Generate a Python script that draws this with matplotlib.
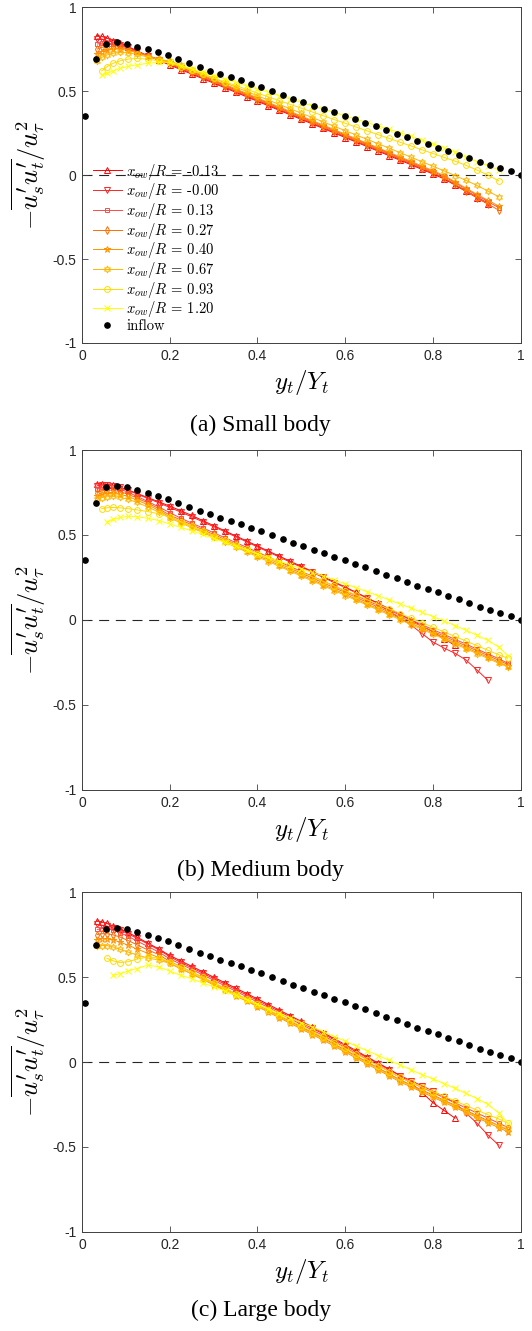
import matplotlib
matplotlib.use("Agg")
import matplotlib.pyplot as plt

plt.rcParams["mathtext.fontset"] = "cm"
plt.rcParams["axes.unicode_minus"] = False
plt.rcParams["font.family"] = ["Liberation Sans", "DejaVu Sans"]

# wall-normal grid of the measurement stations (y_t / Y_t)
X_GRID = [0.035, 0.045, 0.057, 0.071, 0.087, 0.105, 0.125, 0.15, 0.175,
          0.2, 0.225, 0.25, 0.275, 0.3, 0.325, 0.35, 0.375, 0.4, 0.425,
          0.45, 0.475, 0.5, 0.525, 0.55, 0.575, 0.6, 0.625, 0.65, 0.675,
          0.7, 0.725, 0.75, 0.775, 0.8, 0.825, 0.85, 0.875, 0.9, 0.925,
          0.95, 0.97]

INFLOW_X = [0.007, 0.031, 0.055, 0.079, 0.102, 0.126, 0.15, 0.173, 0.197,
            0.22, 0.244, 0.268, 0.291, 0.315, 0.339, 0.362, 0.386, 0.409,
            0.433, 0.457, 0.48, 0.504, 0.528, 0.551, 0.575, 0.599, 0.622,
            0.646, 0.67, 0.693, 0.717, 0.741, 0.764, 0.788, 0.811, 0.835,
            0.859, 0.882, 0.906, 0.93, 0.953, 0.977, 1.0]
INFLOW_Y = [0.35, 0.69, 0.78, 0.79, 0.78, 0.765, 0.748, 0.73, 0.714, 0.69,
            0.667, 0.643, 0.621, 0.601, 0.583, 0.563, 0.54, 0.522, 0.502,
            0.475, 0.455, 0.433, 0.413, 0.395, 0.373, 0.353, 0.331, 0.311,
            0.29, 0.266, 0.246, 0.224, 0.202, 0.183, 0.163, 0.141, 0.121,
            0.099, 0.079, 0.06, 0.04, 0.022, 0.002]

STATIONS = ["-0.13", "-0.00", "0.13", "0.27", "0.40", "0.67", "0.93", "1.20"]

# ---- (a) small body ----
SMALL_START = [0, 0, 0, 0, 0, 0, 1, 1]
SMALL_M013 = [0.83, 0.825, 0.815, 0.80, 0.785, 0.765, 0.74, 0.71, 0.683,
              0.655, 0.628, 0.601, 0.574, 0.547, 0.52, 0.493, 0.466, 0.439, 0.412,
              0.385, 0.358, 0.331, 0.304, 0.277, 0.25, 0.223, 0.196, 0.169, 0.142,
              0.115, 0.088, 0.061, 0.033, 0.006, -0.023, -0.06, -0.098, -0.135, -0.173]
SMALL_M000 = [0.81, 0.81, 0.80, 0.79, 0.775, 0.76, 0.737, 0.71, 0.685,
              0.66, 0.633, 0.606, 0.579, 0.552, 0.525, 0.498, 0.471, 0.444, 0.417,
              0.39, 0.363, 0.336, 0.309, 0.282, 0.255, 0.228, 0.201, 0.174, 0.147,
              0.12, 0.093, 0.066, 0.038, 0.011, -0.018, -0.055, -0.093, -0.13, -0.168]
SMALL_P013 = [0.78, 0.785, 0.785, 0.78, 0.77, 0.755, 0.735, 0.71, 0.688,
              0.67, 0.643, 0.616, 0.589, 0.562, 0.535, 0.508, 0.481, 0.454, 0.427,
              0.40, 0.373, 0.346, 0.319, 0.292, 0.265, 0.238, 0.211, 0.184, 0.157,
              0.13, 0.103, 0.076, 0.048, 0.021, -0.008, -0.045, -0.083, -0.12, -0.158,
              -0.195]
SMALL_P027 = [0.75, 0.76, 0.765, 0.765, 0.76, 0.75, 0.733, 0.71, 0.69,
              0.665, 0.638, 0.611, 0.584, 0.557, 0.53, 0.503, 0.476, 0.449, 0.422,
              0.395, 0.368, 0.341, 0.314, 0.287, 0.26, 0.233, 0.206, 0.179, 0.152,
              0.125, 0.098, 0.071, 0.043, 0.014, -0.017, -0.055, -0.095, -0.135, -0.172,
              -0.21]
SMALL_P040 = [0.72, 0.735, 0.745, 0.75, 0.75, 0.742, 0.728, 0.708, 0.688,
              0.675, 0.648, 0.621, 0.594, 0.567, 0.54, 0.513, 0.486, 0.459, 0.432,
              0.405, 0.378, 0.351, 0.324, 0.297, 0.27, 0.243, 0.216, 0.189, 0.162,
              0.135, 0.108, 0.081, 0.053, 0.026, -0.003, -0.04, -0.078, -0.115, -0.15,
              -0.185]
SMALL_P067 = [0.68, 0.70, 0.715, 0.725, 0.73, 0.728, 0.718, 0.703, 0.688,
              0.68, 0.654, 0.628, 0.602, 0.576, 0.55, 0.524, 0.498, 0.472, 0.446,
              0.42, 0.394, 0.368, 0.342, 0.316, 0.29, 0.264, 0.238, 0.212, 0.186,
              0.16, 0.133, 0.106, 0.079, 0.052, 0.025, -0.003, -0.032, -0.062, -0.095,
              -0.13]
SMALL_P093 = [0.62, 0.645, 0.665, 0.68, 0.69, 0.694, 0.69, 0.68,
              0.668, 0.645, 0.623, 0.60, 0.578, 0.555, 0.533, 0.51, 0.488, 0.465,
              0.443, 0.42, 0.398, 0.375, 0.353, 0.33, 0.308, 0.285, 0.263, 0.24,
              0.218, 0.195, 0.173, 0.15, 0.128, 0.105, 0.083, 0.058, 0.03, 0.0, -0.035]
SMALL_P120 = [0.595, 0.605, 0.62, 0.635, 0.647, 0.656, 0.665, 0.672,
              0.672, 0.652, 0.632, 0.612, 0.592, 0.572, 0.552, 0.532, 0.512, 0.492,
              0.472, 0.452, 0.432, 0.412, 0.392, 0.372, 0.352, 0.332, 0.312, 0.292,
              0.272, 0.252, 0.23, 0.208, 0.186, 0.163, 0.135, 0.105, 0.08, 0.055, 0.03]

# ---- (b) medium body ----
MEDIUM_START = [0, 0, 0, 0, 0, 0, 1, 2]
MEDIUM_M013 = [0.80, 0.80, 0.797, 0.792, 0.78, 0.765, 0.745, 0.72, 0.695,
               0.67, 0.643, 0.615, 0.585, 0.555, 0.525, 0.495, 0.465, 0.435, 0.405,
               0.375, 0.345, 0.315, 0.285, 0.255, 0.224, 0.193, 0.162, 0.13, 0.098,
               0.066, 0.034, 0.0, -0.035, -0.07, -0.11, -0.15]
MEDIUM_M000 = [0.79, 0.795, 0.795, 0.79, 0.78, 0.763, 0.742, 0.715, 0.69,
               0.662, 0.635, 0.607, 0.578, 0.549, 0.52, 0.49, 0.46, 0.43, 0.40,
               0.37, 0.34, 0.31, 0.28, 0.25, 0.22, 0.19, 0.16, 0.128, 0.095,
               0.05, 0.01, -0.03, -0.08, -0.13, -0.165, -0.196, -0.235, -0.294, -0.355]
MEDIUM_P013 = [0.77, 0.78, 0.783, 0.78, 0.77, 0.752, 0.728, 0.697, 0.665,
               0.632, 0.599, 0.57, 0.542, 0.513, 0.485, 0.456, 0.428, 0.399, 0.371,
               0.342, 0.314, 0.285, 0.257, 0.228, 0.2, 0.171, 0.143, 0.114, 0.086,
               0.057, 0.029, 0.0, -0.028, -0.057, -0.085, -0.114, -0.142, -0.171, -0.2,
               -0.228, -0.255]
MEDIUM_P027 = [0.75, 0.76, 0.765, 0.763, 0.755, 0.74, 0.718, 0.688, 0.655,
               0.617, 0.589, 0.56, 0.532, 0.503, 0.475, 0.446, 0.418, 0.389, 0.361,
               0.332, 0.304, 0.275, 0.247, 0.218, 0.19, 0.161, 0.133, 0.104, 0.076,
               0.047, 0.019, -0.01, -0.038, -0.067, -0.095, -0.124, -0.152, -0.181, -0.209,
               -0.238, -0.262]
MEDIUM_P040 = [0.73, 0.74, 0.745, 0.745, 0.74, 0.727, 0.706, 0.678, 0.645,
               0.607, 0.579, 0.55, 0.522, 0.493, 0.465, 0.436, 0.408, 0.379, 0.351,
               0.322, 0.294, 0.265, 0.237, 0.208, 0.18, 0.151, 0.123, 0.094, 0.066,
               0.037, 0.009, -0.02, -0.048, -0.077, -0.105, -0.134, -0.162, -0.191, -0.219,
               -0.248, -0.272]
MEDIUM_P067 = [0.71, 0.72, 0.725, 0.727, 0.722, 0.71, 0.692, 0.665, 0.635,
               0.6, 0.572, 0.543, 0.515, 0.486, 0.458, 0.429, 0.401, 0.372, 0.344,
               0.315, 0.287, 0.258, 0.23, 0.201, 0.173, 0.144, 0.116, 0.087, 0.059,
               0.03, 0.002, -0.027, -0.055, -0.084, -0.112, -0.141, -0.169, -0.198, -0.226,
               -0.255, -0.275]
MEDIUM_P093 = [0.655, 0.66, 0.662, 0.66, 0.655, 0.648, 0.638, 0.625,
               0.605, 0.578, 0.551, 0.524, 0.497, 0.47, 0.443, 0.416, 0.389, 0.362,
               0.335, 0.308, 0.281, 0.254, 0.227, 0.20, 0.173, 0.146, 0.119, 0.092,
               0.065, 0.038, 0.011, -0.016, -0.043, -0.07, -0.097, -0.124, -0.151, -0.178,
               -0.205, -0.225]
MEDIUM_P120 = [0.578, 0.592, 0.603, 0.61, 0.608, 0.598, 0.585,
               0.565, 0.545, 0.525, 0.503, 0.48, 0.458, 0.435, 0.413, 0.39, 0.368,
               0.346, 0.324, 0.302, 0.28, 0.258, 0.235, 0.212, 0.189, 0.166, 0.142,
               0.118, 0.094, 0.07, 0.045, 0.02, -0.006, -0.033, -0.06, -0.09, -0.12,
               -0.16, -0.21]

# ---- (c) large body ----
LARGE_START = [0, 0, 0, 0, 0, 0, 2, 3]
LARGE_M013 = [0.83, 0.825, 0.815, 0.80, 0.783, 0.762, 0.735, 0.70, 0.665,
              0.627, 0.595, 0.563, 0.531, 0.499, 0.467, 0.435, 0.403, 0.371, 0.338,
              0.305, 0.272, 0.239, 0.206, 0.172, 0.137, 0.102, 0.066, 0.03, -0.006,
              -0.042, -0.08, -0.125, -0.18, -0.24, -0.285, -0.33]
LARGE_M000 = [0.81, 0.805, 0.80, 0.79, 0.775, 0.755, 0.728, 0.695, 0.66,
              0.62, 0.586, 0.555, 0.523, 0.491, 0.459, 0.427, 0.395, 0.363, 0.33,
              0.297, 0.264, 0.231, 0.198, 0.165, 0.13, 0.095, 0.06, 0.025, -0.01,
              -0.045, -0.08, -0.11, -0.14, -0.172, -0.205, -0.24, -0.3, -0.36, -0.43,
              -0.49]
LARGE_P013 = [0.78, 0.785, 0.785, 0.775, 0.76, 0.74, 0.712, 0.68, 0.647,
              0.607, 0.576, 0.545, 0.513, 0.481, 0.449, 0.417, 0.385, 0.353, 0.32,
              0.287, 0.254, 0.221, 0.188, 0.155, 0.12, 0.085, 0.05, 0.015, -0.02,
              -0.055, -0.09, -0.12, -0.15, -0.18, -0.21, -0.24, -0.27, -0.30, -0.33,
              -0.36, -0.385]
LARGE_P027 = [0.75, 0.755, 0.755, 0.748, 0.735, 0.715, 0.69, 0.66, 0.632,
              0.592, 0.561, 0.53, 0.498, 0.466, 0.434, 0.402, 0.37, 0.338, 0.305,
              0.272, 0.239, 0.206, 0.173, 0.14, 0.105, 0.07, 0.035, 0.0, -0.035,
              -0.07, -0.105, -0.135, -0.165, -0.195, -0.225, -0.255, -0.285, -0.315, -0.345,
              -0.375, -0.40]
LARGE_P040 = [0.72, 0.725, 0.725, 0.718, 0.705, 0.688, 0.665, 0.64, 0.615,
              0.58, 0.549, 0.518, 0.486, 0.454, 0.422, 0.39, 0.358, 0.326, 0.293,
              0.26, 0.227, 0.194, 0.161, 0.128, 0.093, 0.058, 0.023, -0.012, -0.047,
              -0.082, -0.117, -0.147, -0.177, -0.207, -0.237, -0.267, -0.297, -0.327, -0.357,
              -0.387, -0.41]
LARGE_P067 = [0.68, 0.685, 0.685, 0.677, 0.663, 0.647, 0.63, 0.612, 0.6,
              0.58, 0.55, 0.52, 0.49, 0.458, 0.426, 0.394, 0.362, 0.33, 0.298,
              0.266, 0.233, 0.2, 0.167, 0.134, 0.1, 0.065, 0.03, -0.005, -0.04,
              -0.075, -0.11, -0.14, -0.17, -0.2, -0.23, -0.26, -0.29, -0.32, -0.35,
              -0.375, -0.395]
LARGE_P093 = [0.61, 0.595, 0.585, 0.59, 0.605, 0.618, 0.612,
              0.59, 0.56, 0.53, 0.499, 0.467, 0.435, 0.403, 0.371, 0.339, 0.307,
              0.275, 0.243, 0.211, 0.179, 0.147, 0.114, 0.08, 0.046, 0.012, -0.022,
              -0.056, -0.09, -0.12, -0.148, -0.175, -0.202, -0.229, -0.256, -0.283, -0.31,
              -0.335, -0.36]
LARGE_P120 = [0.51, 0.52, 0.535, 0.55, 0.57, 0.56,
              0.535, 0.51, 0.49, 0.465, 0.443, 0.418, 0.393, 0.367, 0.34, 0.313,
              0.286, 0.259, 0.232, 0.205, 0.178, 0.15, 0.122, 0.094, 0.066, 0.038,
              0.01, -0.018, -0.046, -0.074, -0.1, -0.127, -0.155, -0.185, -0.215, -0.25,
              -0.3, -0.36]

COLORS = ["#ff0000", "#ff2424", "#ff4949", "#ff6d00",
          "#ff9200", "#ffb600", "#ffdb00", "#ffff00"]
MARKERS = ["^", "v", "s", "d", "*", (6, 1, 0), "o", "x"]
MSIZES = [4.2, 4.2, 3.2, 4.0, 5.0, 5.0, 4.2, 4.0]

panels = [
    ("(a) Small body", SMALL_START,
     [SMALL_M013, SMALL_M000, SMALL_P013, SMALL_P027,
      SMALL_P040, SMALL_P067, SMALL_P093, SMALL_P120]),
    ("(b) Medium body", MEDIUM_START,
     [MEDIUM_M013, MEDIUM_M000, MEDIUM_P013, MEDIUM_P027,
      MEDIUM_P040, MEDIUM_P067, MEDIUM_P093, MEDIUM_P120]),
    ("(c) Large body", LARGE_START,
     [LARGE_M013, LARGE_M000, LARGE_P013, LARGE_P027,
      LARGE_P040, LARGE_P067, LARGE_P093, LARGE_P120]),
]

fig = plt.figure(figsize=(5.32, 13.31), dpi=100)
boxes = [[0.154, 0.7423, 0.825, 0.2524],
         [0.154, 0.4065, 0.825, 0.2554],
         [0.154, 0.0744, 0.825, 0.2554]]
caption_y = [0.6807, 0.3464, 0.0158]

for k, (caption, starts, series) in enumerate(panels):
    ax = fig.add_axes(boxes[k])
    ax.axhline(0, color="0.15", lw=0.8, ls=(0, (9, 6)), zorder=1)
    for i, vals in enumerate(series):
        s = starts[i]
        xs = X_GRID[s:s + len(vals)]
        ax.plot(xs, vals, color=COLORS[i], marker=MARKERS[i], ms=MSIZES[i],
                mfc="none", mew=0.7, lw=0.7,
                label=r"$x_{ow}/R$ = " + STATIONS[i])
    ax.plot(INFLOW_X, INFLOW_Y, ls="none", marker="o", ms=3.8,
            color="black", label="inflow")

    ax.set_xlim(0, 1)
    ax.set_ylim(-1, 1)
    ax.set_xticks([0, 0.2, 0.4, 0.6, 0.8, 1])
    ax.set_xticklabels(["0", "0.2", "0.4", "0.6", "0.8", "1"])
    ax.set_yticks([-1, -0.5, 0, 0.5, 1])
    ax.set_yticklabels(["-1", "-0.5", "0", "0.5", "1"])
    ax.tick_params(direction="in", top=True, right=True, length=4, width=0.6,
                   color="0.25", labelsize=10, labelcolor="0.15", pad=4)
    for sp in ax.spines.values():
        sp.set_color("0.25")
        sp.set_linewidth(0.7)

    ax.set_xlabel(r"$y_t/Y_t$", fontsize=18)
    ax.xaxis.set_label_coords(0.5, -0.075)
    ax.set_ylabel(r"$-\overline{u_s^{\prime}u_t^{\prime}}/u_\tau^2$", fontsize=19)
    ax.yaxis.set_label_coords(-0.078, 0.5)

    if k == 0:
        ax.legend(loc="lower left", bbox_to_anchor=(0.025, 0.03), frameon=False,
                  prop={"family": "cmr10", "size": 10.5},
                  handlelength=2.0, handletextpad=0.3,
                  labelspacing=-0.02, borderaxespad=0, borderpad=0)

    fig.text(0.49, caption_y[k], caption, ha="center", va="center",
             fontsize=17, family="Liberation Serif")

fig.savefig("out.png", dpi=100)
